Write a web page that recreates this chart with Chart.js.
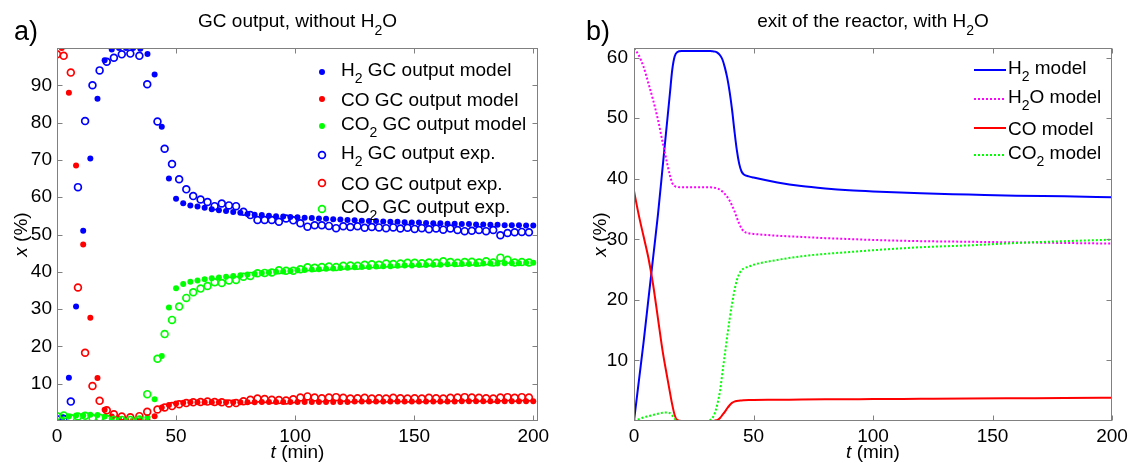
<!DOCTYPE html>
<html>
<head>
<meta charset="utf-8">
<script src="https://cdn.jsdelivr.net/npm/chart.js@4/dist/chart.umd.min.js"></script>
<style>
  body { margin: 0; background: #fff; }
  #wrap { position: relative; width: 1132px; height: 466px; overflow: hidden; }
  canvas { position: absolute; top: 0; }
  #left { left: 0; }
  #right { left: 580px; }
</style>
</head>
<body>
<div id="wrap">
  <canvas id="left" width="580" height="466"></canvas>
  <canvas id="right" width="552" height="466"></canvas>
</div>
<script>
// panel a) GC output, sampled model points
var modelTime = [2,5,8,11,14,17,20,23,26,29,32,35,38,41,44,47,50,53,56,59,62,65,68,71,74,77,80,83,86,89,92,95,98,101,104,107,110,113,116,119,122,125,128,131,134,137,140,143,146,149,152,155,158,161,164,167,170,173,176,179,182,185,188,191,194,197,200];
var h2Model = [0.5,11.6,30.7,51,70.4,86.4,96.7,99.6,100,100, 100,99.8,98.4,92.9,78.9,65,59.6,58.4,57.8,57.5, 57.2,56.8,56.5,56.3,56.0,55.8,55.5,55.3,55.2,55.0, 54.9,54.8,54.7,54.6,54.5,54.4,54.3,54.2,54.1,54.0, 53.9,53.8,53.7,53.6,53.6,53.5,53.4,53.4,53.3,53.2, 53.2,53.1,53.0,53.0,52.9,52.9,52.8,52.8,52.7,52.7, 52.6,52.6,52.5,52.5,52.5,52.4,52.4];
var coModel = [100,88,68.5,47.3,27.7,11.5,3.0,1.2,0.6,0.3, 0.2,0.2,0.3,1.3,3.6,4.3,4.7,4.9,5.0,5.0, 5.0,5.0,5.0,5.0,5.0,5.0,5.0,5.0,5.1,5.1, 5.1,5.1,5.1,5.1,5.1,5.1,5.1,5.1,5.1,5.1, 5.1,5.2,5.2,5.2,5.2,5.2,5.2,5.2,5.2,5.2, 5.2,5.2,5.2,5.2,5.2,5.2,5.3,5.3,5.3,5.3, 5.3,5.3,5.3,5.3,5.3,5.3,5.3];
var co2Model = [1.2,1.3,1.5,1.5,1.7,1.6,1.2,0.6,0.3,0.2, 0.2,0.3,1.0,5.8,17.4,30.4,35.6,36.7,37.3,37.7, 38.0,38.3,38.5,38.7,38.9,39.1,39.3,39.5,39.7,39.8, 40.0,40.1,40.2,40.4,40.5,40.6,40.7,40.8,40.9,41.0, 41.1,41.2,41.3,41.3,41.4,41.5,41.5,41.6,41.7,41.7, 41.8,41.8,41.9,41.9,42.0,42.0,42.1,42.1,42.1,42.2, 42.2,42.2,42.3,42.3,42.3,42.4,42.4];

// panel a) measured points
var expTime = [0,2.8,5.8,8.8,11.8,14.9,17.9,20.9,23.9,27.2, 30.8,34.6,37.9,42.2,45.2,48.3,51.3,54.3,57.2,60.3, 63.2,66.2,69.2,72.2,75.2,78.3,81.2,84.2,87.2,90.2, 93.2,96.2,99.2,102.2,105.2,108.2,111.2,114.2,117.2,120.2, 123.2,126.2,129.2,132.2,135.2,138.2,141.2,144.2,147.2,150.2, 153.2,156.2,159.2,162.2,165.2,168.2,171.2,174.2,177.2,180.2, 183.2,186.2,189.2,192.2,195.2,198.2];
var h2Exp = [0.5,0.6,5.2,62.7,80.4,90,94,96.3,97.4,98.3, 98.5,97.9,90.3,80.3,73,68.9,64.8,62.1,60.3,59.4, 58.7,57.6,58.3,57.8,57.6,56.1,55.2,53.9,53.9,53.9, 53.4,54.3,53.8,53.0,52.1,52.5,52.5,52.3,51.7,52.2, 52.0,52.2,51.8,52.0,51.9,51.7,51.9,51.6,51.8,51.5, 51.7,51.4,51.6,51.3,51.6,51.2,50.9,51.0,51.2,50.9, 51.2,49.8,50.4,50.6,50.7,50.6];
var coExp = [98.3,97.9,93.4,35.8,18.3,9.4,5.4,2.9,1.8,1.2, 1.0,1.3,2.5,3.1,3.6,4.0,4.5,4.8,5.0,5.1, 5.2,5.1,5.0,4.7,4.8,5.3,5.7,6.0,5.9,5.7, 5.6,5.5,5.8,6.3,6.6,6.3,6.1,6.3,6.4,6.2, 6.0,6.1,6.2,6.0,6.1,6.0,6.2,6.1,6.0,6.1, 6.0,6.2,6.1,6.0,6.2,6.3,6.4,6.3,6.2,6.1, 6.0,6.3,6.4,6.2,6.4,6.3];
var co2Exp = [1.3,1.5,0.8,1.2,1.4,0.8,0.9,0.6,0.3,0.3, 0.3,0.4,7.2,16.7,23.3,27.1,30.7,33.0,34.5,35.5, 36.2,37.2,37.0,37.7,37.8,38.7,38.9,39.6,39.7,39.8, 40.4,40.3,40.3,40.7,41.2,41.1,41.3,41.4,41.3,41.6, 41.7,41.6,41.9,42.0,41.9,42.2,42.1,42.2,42.4,42.4, 42.3,42.5,42.4,42.8,42.6,42.4,42.6,42.7,42.5,42.8, 42.5,43.8,43.2,42.5,42.6,42.5];

// panel b) exit of the reactor, model curves
var reactorTime = [0,2,4,6,8,10,12,14,15,16,17,18,20,25,30,32,33,34,35,36,37,38,39,40,41,42,43,44,45,46,48,50,60,70,80,90,100,120,140,160,180,200];
var h2Reactor = [0,6.5,13,20,27,34,42,50,54,58,60.2,60.9,61.1,61.1,61.1,61.1,61.05,61.0,60.8,60.4,59.7,58.4,56.7,54.4,51.5,48,44.8,42.5,41.2,40.7,40.4,40.2,39.4,38.8,38.4,38.1,37.9,37.6,37.4,37.2,37.1,36.95];
var h2oReactor = [61.5,60.4,58.5,55.8,53,49.8,46,42.3,40.6,39.3,38.8,38.65,38.6,38.6,38.6,38.6,38.55,38.5,38.4,38.2,37.9,37.5,37.0,36.4,35.6,34.7,33.6,32.6,31.8,31.3,31.0,30.9,30.6,30.4,30.2,30.05,29.9,29.7,29.6,29.5,29.4,29.3];
var coReactor = [38,34,30.5,27,22.5,17,11.5,7,4.8,2.7,1.0,0.2,0,0,0,0,0,0.1,0.2,0.5,1.0,1.5,2.1,2.6,3.0,3.2,3.3,3.35,3.4,3.42,3.45,3.47,3.5,3.55,3.58,3.6,3.62,3.67,3.72,3.76,3.8,3.85];
var co2Reactor = [0,0.3,0.6,0.8,1.0,1.2,1.35,1.4,1.3,0.9,0.4,0.1,0,0,0,0.2,0.6,1.5,3,5,8,11,14,16.8,19.3,21.5,23.2,24.3,24.9,25.2,25.5,25.8,26.6,27.2,27.6,27.9,28.2,28.7,29.0,29.4,29.7,29.95];

var leftXTicks = [0, 50, 100, 150, 200];
var leftYTicks = [10, 20, 30, 40, 50, 60, 70, 80, 90];
var rightXTicks = [0, 50, 100, 150, 200];
var rightYTicks = [10, 20, 30, 40, 50, 60];

var BLUE = '#0000ff', RED = '#ff0000', GREEN = '#00ff00', MAGENTA = '#ff00ff';
var FONT = '"Liberation Sans", Arial, sans-serif';
var AXIS = '#808080';
var FS = 19;

Chart.defaults.font.family = FONT;
Chart.defaults.color = '#000';

function pts(xs, ys) {
  return xs.map(function (x, i) { return { x: x, y: ys[i] }; });
}

function fontFor(style, size) {
  if (style === 's') return Math.round(size * 0.72) + 'px ' + FONT;
  if (style === 'i') return 'italic ' + size + 'px ' + FONT;
  return size + 'px ' + FONT;
}

// draws text made of parts: ['text', ''|'s'|'i'], y is the baseline
function drawRich(ctx, parts, x, y, size, align) {
  var w = 0;
  parts.forEach(function (p) { ctx.font = fontFor(p[1], size); w += ctx.measureText(p[0]).width; });
  var cx = align === 'center' ? x - w / 2 : x;
  ctx.textAlign = 'left';
  ctx.textBaseline = 'alphabetic';
  ctx.fillStyle = '#000';
  parts.forEach(function (p) {
    ctx.font = fontFor(p[1], size);
    ctx.fillText(p[0], cx, y + (p[1] === 's' ? size * 0.42 : 0));
    cx += ctx.measureText(p[0]).width;
  });
}

function line(ctx, x1, y1, x2, y2) {
  ctx.beginPath(); ctx.moveTo(x1, y1); ctx.lineTo(x2, y2); ctx.stroke();
}

var deco = {
  id: 'deco',
  afterDatasetsDraw: function (chart, args, o) {
    var ctx = chart.ctx, a = chart.chartArea;
    var xs = chart.scales.x, ys = chart.scales.y;
    var L = Math.round(a.left) + 0.5, R = Math.round(a.right) - 0.5;
    var T = Math.round(a.top) + 0.5, B = Math.round(a.bottom) - 0.5;
    ctx.save();
    ctx.strokeStyle = AXIS;
    ctx.lineWidth = 1;
    ctx.strokeRect(L, T, R - L, B - T);
    o.xTicks.forEach(function (v) {
      var x = Math.round(xs.getPixelForValue(v)) + 0.5;
      line(ctx, x, B, x, B - 5);
      line(ctx, x, T, x, T + 5);
    });
    o.yTicks.forEach(function (v) {
      var y = Math.round(ys.getPixelForValue(v)) + 0.5;
      line(ctx, L, y, L + 5, y);
      line(ctx, R, y, R - 5, y);
    });

    var cx = (a.left + a.right) / 2;
    drawRich(ctx, o.title, cx, 27, FS, 'center');
    drawRich(ctx, [[o.tag, '']], o.tagX, 40, 27, 'left');
    drawRich(ctx, [['t', 'i'], [' (min)', '']], cx, 458, FS, 'center');
    ctx.save();
    ctx.translate(o.yTitleX, (a.top + a.bottom) / 2);
    ctx.rotate(-Math.PI / 2);
    drawRich(ctx, [['x', 'i'], [' (%)', '']], 0, 0, FS, 'center');
    ctx.restore();

    var lg = o.legend;
    lg.rows.forEach(function (r) {
      var hasSub = r.label.some(function (p) { return p[1] === 's'; });
      ctx.strokeStyle = r.color;
      ctx.fillStyle = r.color;
      if (r.mark === 'dot') {
        ctx.beginPath(); ctx.arc(lg.x, r.y, 3, 0, Math.PI * 2); ctx.fill();
      } else if (r.mark === 'ring') {
        ctx.lineWidth = 1.7;
        ctx.beginPath(); ctx.arc(lg.x, r.y, 3.4, 0, Math.PI * 2); ctx.stroke();
      } else {
        ctx.lineWidth = 2;
        ctx.setLineDash(r.mark === 'dotted' ? [2, 2] : []);
        line(ctx, lg.x, r.y, lg.x2, r.y);
        ctx.setLineDash([]);
      }
      drawRich(ctx, r.label, lg.textX, r.y + 7 - (hasSub ? 3.5 : 0), FS, 'left');
    });
    ctx.restore();
  }
};

function scaleOpts(min, max, list, size, pad) {
  return {
    type: 'linear', min: min, max: max,
    grid: { display: false, drawTicks: false, tickLength: 0 },
    border: { display: false },
    afterBuildTicks: function (s) {
      s.ticks = list.map(function (v) { return { value: v }; });
    },
    ticks: {
      autoSkip: false, maxRotation: 0, padding: pad,
      font: { size: FS }, color: '#000',
      callback: function (v) { return String(v); }
    },
    afterFit: size
  };
}

new Chart(document.getElementById('left'), {
  type: 'scatter',
  data: {
    datasets: [
      { data: pts(modelTime, h2Model), backgroundColor: BLUE, pointRadius: 3, borderWidth: 0, order: 6 },
      { data: pts(modelTime, coModel), backgroundColor: RED, pointRadius: 3, borderWidth: 0, order: 5 },
      { data: pts(modelTime, co2Model), backgroundColor: GREEN, pointRadius: 3, borderWidth: 0, order: 4 },
      { data: pts(expTime, h2Exp), backgroundColor: 'rgba(0,0,0,0)', borderColor: BLUE, pointRadius: 3.4, borderWidth: 1.7, order: 3 },
      { data: pts(expTime, coExp), backgroundColor: 'rgba(0,0,0,0)', borderColor: RED, pointRadius: 3.4, borderWidth: 1.7, order: 2 },
      { data: pts(expTime, co2Exp), backgroundColor: 'rgba(0,0,0,0)', borderColor: GREEN, pointRadius: 3.4, borderWidth: 1.7, order: 1 }
    ]
  },
  options: {
    responsive: false, animation: false, events: [],
    layout: { padding: { left: 0, right: 42, top: 48, bottom: 0 } },
    plugins: {
      legend: { display: false }, tooltip: { enabled: false },
      deco: {
        tag: 'a)', tagX: 14, yTitleX: 27,
        title: [['GC output, without H', ''], ['2', 's'], ['O', '']],
        xTicks: leftXTicks, yTicks: leftYTicks,
        legend: {
          x: 322, textX: 341,
          rows: [
            { y: 72, mark: 'dot', color: BLUE, label: [['H', ''], ['2', 's'], [' GC output model', '']] },
            { y: 99, mark: 'dot', color: RED, label: [['CO GC output model', '']] },
            { y: 126, mark: 'dot', color: GREEN, label: [['CO', ''], ['2', 's'], [' GC output model', '']] },
            { y: 155, mark: 'ring', color: BLUE, label: [['H', ''], ['2', 's'], [' GC output exp.', '']] },
            { y: 183, mark: 'ring', color: RED, label: [['CO GC output exp.', '']] },
            { y: 209, mark: 'ring', color: GREEN, label: [['CO', ''], ['2', 's'], [' GC output exp.', '']] }
          ]
        }
      }
    },
    scales: {
      x: scaleOpts(0, 202, leftXTicks, function (s) { s.height = 45; }, 4),
      y: scaleOpts(0, 100, leftYTicks, function (s) { s.width = 57; }, 5)
    }
  },
  plugins: [deco]
});

function curve(ys, color, dotted) {
  return {
    data: pts(reactorTime, ys), borderColor: color, borderWidth: 2, pointRadius: 0,
    borderDash: dotted ? [2, 2] : [], cubicInterpolationMode: 'monotone', fill: false
  };
}

new Chart(document.getElementById('right'), {
  type: 'line',
  data: {
    datasets: [
      curve(co2Reactor, GREEN, true),
      curve(coReactor, RED, false),
      curve(h2oReactor, MAGENTA, true),
      curve(h2Reactor, BLUE, false)
    ]
  },
  options: {
    responsive: false, animation: false, events: [],
    layout: { padding: { left: 0, right: 20, top: 48, bottom: 0 } },
    plugins: {
      legend: { display: false }, tooltip: { enabled: false },
      deco: {
        tag: 'b)', tagX: 6, yTitleX: 26,
        title: [['exit of the reactor, with H', ''], ['2', 's'], ['O', '']],
        xTicks: rightXTicks, yTicks: rightYTicks,
        legend: {
          x: 394, x2: 426, textX: 428,
          rows: [
            { y: 70, mark: 'solid', color: BLUE, label: [['H', ''], ['2', 's'], [' model', '']] },
            { y: 99, mark: 'dotted', color: MAGENTA, label: [['H', ''], ['2', 's'], ['O model', '']] },
            { y: 128, mark: 'solid', color: RED, label: [['CO model', '']] },
            { y: 155, mark: 'dotted', color: GREEN, label: [['CO', ''], ['2', 's'], [' model', '']] }
          ]
        }
      }
    },
    scales: {
      x: scaleOpts(0, 200, rightXTicks, function (s) { s.height = 45; }, 4),
      y: scaleOpts(0, 61.6, rightYTicks, function (s) { s.width = 54; }, 6)
    }
  },
  plugins: [deco]
});
</script>
</body>
</html>
